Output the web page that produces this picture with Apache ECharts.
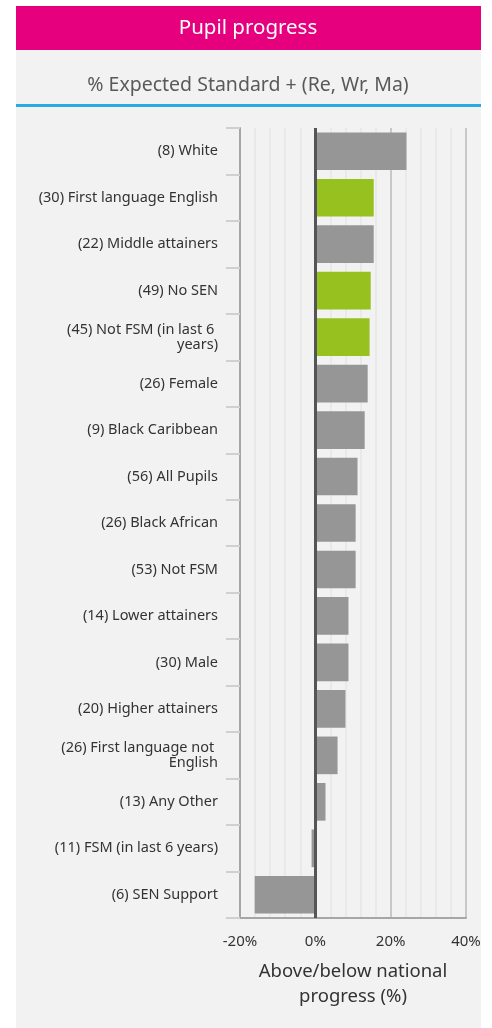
<!DOCTYPE html>
<html>
<head>
<meta charset="utf-8">
<script src="https://cdn.jsdelivr.net/npm/echarts@6/dist/echarts.min.js"></script>
<style>
html,body{margin:0;padding:0;background:#fff;}
#chart{width:492px;height:1028px;}
</style>
</head>
<body>
<div id="chart"></div>
<script>
var categories = [
  "(8) White",
  "(30) First language English",
  "(22) Middle attainers",
  "(49) No SEN",
  "(45) Not FSM (in last 6 years)",
  "(26) Female",
  "(9) Black Caribbean",
  "(56) All Pupils",
  "(26) Black African",
  "(53) Not FSM",
  "(14) Lower attainers",
  "(30) Male",
  "(20) Higher attainers",
  "(26) First language not English",
  "(13) Any Other",
  "(11) FSM (in last 6 years)",
  "(6) SEN Support"
];
var values = [24.2, 15.5, 15.5, 14.7, 14.4, 13.9, 13.1, 11.2, 10.7, 10.7, 8.8, 8.8, 8.0, 5.9, 2.7, -1.0, -16.1];
var highlighted = [false, true, false, true, true, false, false, false, false, false, false, false, false, false, false, false, false];
var xTicks = [-20, 0, 20, 40];

var titleText = "Pupil progress";
var subtitleText = "% Expected Standard + (Re, Wr, Ma)";
var axisName = "Above/below national\nprogress (%)";

var FONT = "'Noto Sans', 'Open Sans', sans-serif";

var chart = echarts.init(document.getElementById('chart'), null, {renderer: 'canvas'});

var barData = values.map(function (v, i) {
  return {
    value: v,
    itemStyle: {color: highlighted[i] ? '#97C11F' : '#969696'}
  };
});

chart.setOption({
  animation: false,
  backgroundColor: '#ffffff',
  graphic: [
    {type: 'rect', shape: {x: 16, y: 50, width: 465, height: 978}, style: {fill: '#F2F2F2'}, z: -10, silent: true},
    {type: 'rect', shape: {x: 16, y: 6, width: 465, height: 44}, style: {fill: '#E6007E'}, z: -9, silent: true},
    {type: 'rect', shape: {x: 16, y: 104, width: 465, height: 3}, style: {fill: '#29ABE2'}, z: -9, silent: true},
    {type: 'text', x: 248, y: 28, style: {text: titleText, fill: '#ffffff', font: '20.5px ' + FONT, align: 'center', verticalAlign: 'middle'}, z: 5},
    {type: 'text', x: 248, y: 85, style: {text: subtitleText, fill: '#595959', font: '19.5px ' + FONT, align: 'center', verticalAlign: 'middle'}, z: 5}
  ],
  grid: {left: 240, right: 26, top: 128, bottom: 110, containLabel: false},
  xAxis: {
    type: 'value',
    min: -20,
    max: 40,
    interval: 20,
    axisLine: {show: true, lineStyle: {color: '#A6A6A6', width: 2}},
    axisTick: {show: false},
    axisLabel: {
      formatter: function (v) { return xTicks.indexOf(v) >= 0 ? v + '%' : ''; },
      color: '#333333', fontSize: 15, fontFamily: FONT, margin: 16
    },
    splitLine: {show: true, lineStyle: {color: '#C8C8C8', width: 2}},
    minorTick: {show: false, splitNumber: 5},
    minorSplitLine: {show: true, lineStyle: {color: '#E6E6E6', width: 1.5}},
    name: axisName,
    nameLocation: 'middle',
    nameGap: 41,
    nameTextStyle: {color: '#333333', fontSize: 18.5, fontFamily: FONT, lineHeight: 25, verticalAlign: 'top'}
  },
  yAxis: {
    type: 'category',
    data: categories,
    inverse: true,
    axisLine: {show: true, onZero: false, lineStyle: {color: '#A6A6A6', width: 2}},
    axisTick: {show: true, length: 14, lineStyle: {color: '#D0D0D0', width: 2}},
    axisLabel: {
      color: '#333333', fontSize: 14.5, fontFamily: FONT, margin: 22,
      width: 184, overflow: 'break', lineHeight: 15, align: 'right',
      padding: [6, 0, 0, 0]
    },
    splitLine: {show: false}
  },
  series: [{
    type: 'bar',
    data: barData,
    barCategoryGap: '19%',
    silent: true,
    markLine: {
      silent: true,
      symbol: ['none', 'none'],
      label: {show: false},
      lineStyle: {color: '#555555', width: 3, type: 'solid'},
      data: [{xAxis: 0}]
    }
  }]
});
</script>
</body>
</html>
